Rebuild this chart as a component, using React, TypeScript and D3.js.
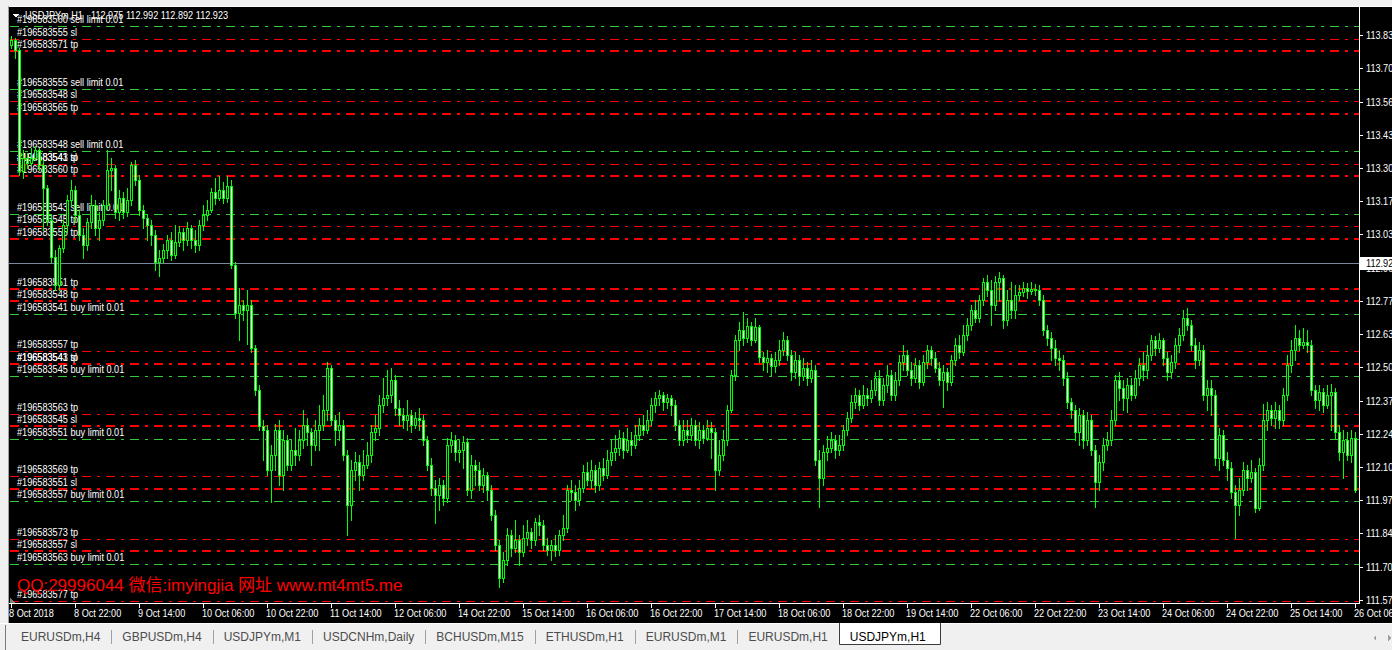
import React from "react";
import * as d3 from "d3";

// ---------- DATA ----------
const symbolTitle = "USDJPYm,H1";
const headerPrices = "112.975 112.992 112.892 112.923";
const bidPrice = 112.923;

const opens = [
  113.794, 113.814, 113.774, 113.290, 113.342, 113.322, 113.342, 113.374, 113.314, 113.222,
  113.094, 112.946, 112.834, 112.982, 113.074, 113.174, 113.214, 113.114, 113.034, 112.994,
  113.086, 113.154, 113.062, 113.094, 113.154, 113.294, 113.302, 113.126, 113.182, 113.126,
  113.174, 113.314, 113.254, 113.134, 113.102, 113.074, 113.034, 112.926, 112.942, 112.974,
  113.014, 112.954, 113.006, 113.046, 113.014, 113.062, 113.014, 112.994, 113.074, 113.114,
  113.134, 113.206, 113.182, 113.214, 113.182, 113.230, 112.914, 112.722, 112.754, 112.734,
  112.754, 112.582, 112.414, 112.270, 112.254, 112.094, 112.154, 112.254, 112.074, 112.214,
  112.114, 112.174, 112.154, 112.214, 112.274, 112.246, 112.194, 112.254, 112.274, 112.334,
  112.502, 112.294, 112.254, 112.274, 112.154, 111.954, 112.094, 112.126, 112.074, 112.114,
  112.154, 112.246, 112.262, 112.354, 112.382, 112.394, 112.454, 112.342, 112.314, 112.294,
  112.314, 112.274, 112.302, 112.294, 112.214, 112.114, 112.022, 111.994, 112.034, 111.982,
  112.194, 112.214, 112.166, 112.174, 112.206, 112.014, 112.114, 112.094, 112.034, 112.074,
  112.014, 111.914, 111.794, 111.662, 111.734, 111.834, 111.782, 111.814, 111.766, 111.822,
  111.846, 111.814, 111.886, 111.874, 111.794, 111.774, 111.794, 111.774, 111.834, 111.862,
  112.014, 112.006, 111.974, 112.022, 112.086, 112.054, 112.094, 112.034, 112.102, 112.074,
  112.134, 112.166, 112.182, 112.222, 112.174, 112.214, 112.194, 112.234, 112.274, 112.254,
  112.294, 112.354, 112.382, 112.394, 112.366, 112.382, 112.354, 112.274, 112.214, 112.254,
  112.234, 112.274, 112.214, 112.254, 112.222, 112.262, 112.246, 112.094, 112.154, 112.214,
  112.334, 112.474, 112.614, 112.654, 112.622, 112.670, 112.614, 112.666, 112.546, 112.526,
  112.542, 112.510, 112.534, 112.574, 112.614, 112.554, 112.486, 112.534, 112.470, 112.502,
  112.462, 112.494, 112.134, 112.062, 112.166, 112.182, 112.214, 112.174, 112.194, 112.254,
  112.302, 112.366, 112.394, 112.354, 112.394, 112.382, 112.414, 112.462, 112.374, 112.434,
  112.474, 112.394, 112.454, 112.526, 112.554, 112.494, 112.462, 112.514, 112.446, 112.526,
  112.574, 112.542, 112.502, 112.454, 112.486, 112.446, 112.534, 112.594, 112.566, 112.634,
  112.674, 112.734, 112.702, 112.774, 112.846, 112.814, 112.754, 112.846, 112.862, 112.694,
  112.774, 112.734, 112.794, 112.806, 112.822, 112.810, 112.818, 112.814, 112.774, 112.654,
  112.622, 112.582, 112.542, 112.534, 112.462, 112.366, 112.334, 112.246, 112.314, 112.214,
  112.294, 112.174, 112.046, 112.126, 112.194, 112.214, 112.294, 112.454, 112.422, 112.382,
  112.434, 112.394, 112.462, 112.514, 112.494, 112.554, 112.614, 112.582, 112.614, 112.542,
  112.486, 112.526, 112.594, 112.634, 112.702, 112.674, 112.594, 112.534, 112.574, 112.394,
  112.422, 112.394, 112.142, 112.234, 112.134, 112.102, 112.006, 111.954, 112.014, 112.094,
  112.062, 112.086, 111.942, 112.114, 112.294, 112.334, 112.302, 112.334, 112.294, 112.394,
  112.514, 112.574, 112.622, 112.594, 112.606, 112.594, 112.414, 112.374, 112.406, 112.354,
  112.394, 112.406, 112.246, 112.166, 112.214, 112.154, 112.222,
];

const highs = [
  113.830, 113.822, 113.782, 113.374, 113.362, 113.382, 113.390, 113.382, 113.334, 113.234,
  113.114, 112.974, 112.994, 113.094, 113.194, 113.254, 113.230, 113.134, 113.062, 113.102,
  113.194, 113.174, 113.126, 113.174, 113.374, 113.342, 113.314, 113.214, 113.206, 113.222,
  113.326, 113.334, 113.274, 113.154, 113.118, 113.094, 113.054, 112.974, 112.998, 113.034,
  113.046, 113.074, 113.070, 113.062, 113.086, 113.074, 113.054, 113.094, 113.154, 113.174,
  113.222, 113.262, 113.270, 113.246, 113.270, 113.254, 112.926, 112.822, 112.774, 112.814,
  112.774, 112.594, 112.434, 112.294, 112.274, 112.194, 112.278, 112.294, 112.254, 112.234,
  112.214, 112.262, 112.254, 112.334, 112.302, 112.262, 112.294, 112.354, 112.394, 112.526,
  112.514, 112.314, 112.326, 112.294, 112.174, 112.134, 112.166, 112.154, 112.174, 112.206,
  112.274, 112.314, 112.394, 112.462, 112.494, 112.502, 112.474, 112.374, 112.342, 112.374,
  112.334, 112.326, 112.342, 112.314, 112.230, 112.142, 112.054, 112.062, 112.054, 112.222,
  112.246, 112.234, 112.214, 112.230, 112.222, 112.154, 112.134, 112.126, 112.102, 112.086,
  112.034, 111.934, 111.814, 111.766, 111.862, 111.854, 111.894, 111.834, 111.874, 111.894,
  111.862, 111.902, 111.914, 111.894, 111.822, 111.814, 111.834, 111.854, 111.914, 112.034,
  112.054, 112.034, 112.054, 112.114, 112.126, 112.134, 112.114, 112.126, 112.142, 112.174,
  112.214, 112.234, 112.254, 112.246, 112.262, 112.246, 112.274, 112.302, 112.314, 112.334,
  112.382, 112.406, 112.414, 112.406, 112.398, 112.394, 112.374, 112.294, 112.294, 112.294,
  112.302, 112.294, 112.286, 112.274, 112.294, 112.286, 112.262, 112.214, 112.254, 112.354,
  112.494, 112.634, 112.686, 112.726, 112.702, 112.686, 112.702, 112.674, 112.566, 112.574,
  112.558, 112.566, 112.614, 112.646, 112.630, 112.574, 112.566, 112.554, 112.542, 112.526,
  112.534, 112.514, 112.174, 112.194, 112.230, 112.246, 112.234, 112.234, 112.274, 112.326,
  112.394, 112.422, 112.414, 112.434, 112.422, 112.454, 112.486, 112.494, 112.462, 112.514,
  112.494, 112.486, 112.554, 112.594, 112.574, 112.526, 112.542, 112.534, 112.554, 112.594,
  112.590, 112.566, 112.526, 112.514, 112.502, 112.554, 112.622, 112.634, 112.674, 112.702,
  112.754, 112.774, 112.794, 112.862, 112.874, 112.854, 112.870, 112.886, 112.874, 112.814,
  112.846, 112.834, 112.834, 112.846, 112.842, 112.846, 112.838, 112.834, 112.794, 112.674,
  112.646, 112.614, 112.574, 112.554, 112.486, 112.382, 112.354, 112.342, 112.334, 112.326,
  112.314, 112.194, 112.154, 112.222, 112.246, 112.334, 112.474, 112.486, 112.454, 112.462,
  112.462, 112.494, 112.542, 112.566, 112.594, 112.634, 112.630, 112.642, 112.622, 112.566,
  112.554, 112.622, 112.662, 112.734, 112.742, 112.694, 112.622, 112.606, 112.594, 112.454,
  112.454, 112.414, 112.262, 112.254, 112.166, 112.126, 112.034, 112.062, 112.126, 112.114,
  112.134, 112.102, 112.142, 112.358, 112.366, 112.354, 112.366, 112.354, 112.422, 112.554,
  112.614, 112.674, 112.654, 112.662, 112.654, 112.614, 112.434, 112.434, 112.422, 112.434,
  112.438, 112.422, 112.274, 112.254, 112.246, 112.254, 112.246,
];

const lows = [
  113.782, 113.742, 113.274, 113.262, 113.302, 113.314, 113.334, 113.294, 113.054, 113.074,
  112.926, 112.814, 112.814, 112.966, 113.046, 113.154, 113.086, 113.014, 112.942, 112.974,
  113.062, 113.034, 113.014, 113.074, 113.134, 113.214, 113.102, 113.094, 113.102, 113.110,
  113.154, 113.234, 113.114, 113.062, 113.014, 112.994, 112.894, 112.870, 112.926, 112.942,
  112.934, 112.942, 112.990, 112.974, 112.994, 112.982, 112.966, 112.974, 113.054, 113.094,
  113.126, 113.158, 113.174, 113.162, 113.166, 112.902, 112.702, 112.614, 112.694, 112.598,
  112.566, 112.394, 112.254, 112.134, 112.074, 111.966, 112.094, 112.034, 112.014, 112.094,
  112.094, 112.114, 112.134, 112.182, 112.194, 112.114, 112.174, 112.174, 112.254, 112.294,
  112.274, 112.194, 112.214, 112.134, 111.834, 111.894, 112.054, 112.014, 112.054, 112.102,
  112.126, 112.214, 112.234, 112.326, 112.354, 112.366, 112.314, 112.274, 112.262, 112.254,
  112.246, 112.262, 112.254, 112.194, 112.094, 111.994, 111.882, 111.934, 111.954, 111.966,
  112.166, 112.134, 112.126, 112.102, 111.994, 111.982, 112.034, 112.014, 112.006, 111.974,
  111.894, 111.774, 111.626, 111.646, 111.714, 111.750, 111.766, 111.714, 111.750, 111.794,
  111.782, 111.794, 111.834, 111.774, 111.754, 111.734, 111.750, 111.754, 111.814, 111.846,
  111.974, 111.934, 111.954, 112.006, 112.034, 112.022, 112.006, 112.014, 112.054, 112.062,
  112.114, 112.134, 112.154, 112.142, 112.166, 112.154, 112.182, 112.214, 112.234, 112.242,
  112.274, 112.326, 112.354, 112.334, 112.342, 112.314, 112.254, 112.194, 112.194, 112.206,
  112.214, 112.194, 112.182, 112.202, 112.214, 112.142, 112.014, 112.074, 112.134, 112.194,
  112.326, 112.454, 112.574, 112.594, 112.606, 112.594, 112.606, 112.526, 112.494, 112.486,
  112.474, 112.486, 112.514, 112.554, 112.534, 112.454, 112.462, 112.434, 112.454, 112.434,
  112.446, 112.114, 111.946, 112.034, 112.134, 112.166, 112.142, 112.154, 112.174, 112.234,
  112.286, 112.342, 112.334, 112.342, 112.354, 112.366, 112.394, 112.354, 112.354, 112.406,
  112.374, 112.374, 112.434, 112.494, 112.474, 112.434, 112.446, 112.422, 112.434, 112.502,
  112.514, 112.486, 112.434, 112.346, 112.414, 112.434, 112.514, 112.542, 112.554, 112.614,
  112.654, 112.686, 112.686, 112.754, 112.790, 112.674, 112.734, 112.774, 112.662, 112.674,
  112.702, 112.702, 112.774, 112.790, 112.782, 112.798, 112.794, 112.754, 112.634, 112.594,
  112.534, 112.514, 112.494, 112.434, 112.342, 112.302, 112.214, 112.194, 112.182, 112.194,
  112.154, 111.946, 112.014, 112.094, 112.174, 112.194, 112.274, 112.374, 112.334, 112.326,
  112.374, 112.382, 112.434, 112.454, 112.462, 112.534, 112.554, 112.566, 112.514, 112.454,
  112.462, 112.502, 112.566, 112.614, 112.654, 112.574, 112.502, 112.514, 112.374, 112.334,
  112.314, 112.114, 112.094, 112.114, 112.054, 111.982, 111.822, 111.914, 111.994, 112.014,
  112.046, 111.926, 111.934, 112.094, 112.254, 112.274, 112.262, 112.262, 112.274, 112.374,
  112.486, 112.534, 112.574, 112.582, 112.566, 112.394, 112.342, 112.334, 112.326, 112.342,
  112.254, 112.222, 112.134, 112.062, 112.134, 112.126, 112.006,
];

const closes = [
  113.814, 113.774, 113.290, 113.342, 113.322, 113.342, 113.374, 113.314, 113.222, 113.094,
  112.946, 112.834, 112.982, 113.074, 113.174, 113.214, 113.114, 113.034, 112.994, 113.086,
  113.154, 113.062, 113.094, 113.154, 113.294, 113.302, 113.126, 113.182, 113.126, 113.174,
  113.314, 113.254, 113.134, 113.102, 113.074, 113.034, 112.926, 112.942, 112.974, 113.014,
  112.954, 113.006, 113.046, 113.014, 113.062, 113.014, 112.994, 113.074, 113.114, 113.134,
  113.206, 113.182, 113.214, 113.182, 113.230, 112.914, 112.722, 112.754, 112.734, 112.754,
  112.582, 112.414, 112.270, 112.254, 112.094, 112.154, 112.254, 112.074, 112.214, 112.114,
  112.174, 112.154, 112.214, 112.274, 112.246, 112.194, 112.254, 112.274, 112.334, 112.502,
  112.294, 112.254, 112.274, 112.154, 111.954, 112.094, 112.126, 112.074, 112.114, 112.154,
  112.246, 112.262, 112.354, 112.382, 112.394, 112.454, 112.342, 112.314, 112.294, 112.314,
  112.274, 112.302, 112.294, 112.214, 112.114, 112.022, 111.994, 112.034, 111.982, 112.194,
  112.214, 112.166, 112.174, 112.206, 112.014, 112.114, 112.094, 112.034, 112.074, 112.014,
  111.914, 111.794, 111.662, 111.734, 111.834, 111.782, 111.814, 111.766, 111.822, 111.846,
  111.814, 111.886, 111.874, 111.794, 111.774, 111.794, 111.774, 111.834, 111.862, 112.014,
  112.006, 111.974, 112.022, 112.086, 112.054, 112.094, 112.034, 112.102, 112.074, 112.134,
  112.166, 112.182, 112.222, 112.174, 112.214, 112.194, 112.234, 112.274, 112.254, 112.294,
  112.354, 112.382, 112.394, 112.366, 112.382, 112.354, 112.274, 112.214, 112.254, 112.234,
  112.274, 112.214, 112.254, 112.222, 112.262, 112.246, 112.094, 112.154, 112.214, 112.334,
  112.474, 112.614, 112.654, 112.622, 112.670, 112.614, 112.666, 112.546, 112.526, 112.542,
  112.510, 112.534, 112.574, 112.614, 112.554, 112.486, 112.534, 112.470, 112.502, 112.462,
  112.494, 112.134, 112.062, 112.166, 112.182, 112.214, 112.174, 112.194, 112.254, 112.302,
  112.366, 112.394, 112.354, 112.394, 112.382, 112.414, 112.462, 112.374, 112.434, 112.474,
  112.394, 112.454, 112.526, 112.554, 112.494, 112.462, 112.514, 112.446, 112.526, 112.574,
  112.542, 112.502, 112.454, 112.486, 112.446, 112.534, 112.594, 112.566, 112.634, 112.674,
  112.734, 112.702, 112.774, 112.846, 112.814, 112.754, 112.846, 112.862, 112.694, 112.774,
  112.734, 112.794, 112.806, 112.822, 112.810, 112.818, 112.814, 112.774, 112.654, 112.622,
  112.582, 112.542, 112.534, 112.462, 112.366, 112.334, 112.246, 112.314, 112.214, 112.294,
  112.174, 112.046, 112.126, 112.194, 112.214, 112.294, 112.454, 112.422, 112.382, 112.434,
  112.394, 112.462, 112.514, 112.494, 112.554, 112.614, 112.582, 112.614, 112.542, 112.486,
  112.526, 112.594, 112.634, 112.702, 112.674, 112.594, 112.534, 112.574, 112.394, 112.422,
  112.394, 112.142, 112.234, 112.134, 112.102, 112.006, 111.954, 112.014, 112.094, 112.062,
  112.086, 111.942, 112.114, 112.294, 112.334, 112.302, 112.334, 112.294, 112.394, 112.514,
  112.574, 112.622, 112.594, 112.606, 112.594, 112.414, 112.374, 112.406, 112.354, 112.394,
  112.406, 112.246, 112.166, 112.214, 112.154, 112.222, 112.014,
];

const orderPrices = [
  113.870, 113.820, 113.770, 113.620, 113.570, 113.520, 113.370, 113.320, 113.320, 113.270,
  113.120, 113.070, 113.020, 112.820, 112.770, 112.720, 112.570, 112.520, 112.520, 112.470,
  112.320, 112.270, 112.220, 112.070, 112.020, 111.970, 111.820, 111.770, 111.720, 111.570,
];
const orderLabels = [
  "#196583560 sell limit 0.01", "#196583555 sl", "#196583571 tp",
  "#196583555 sell limit 0.01", "#196583548 sl", "#196583565 tp",
  "#196583548 sell limit 0.01", "#196583543 sl", "#196583541 tp", "#196583560 tp",
  "#196583543 sell limit 0.01", "#196583545 tp", "#196583555 tp",
  "#196583551 tp", "#196583548 tp", "#196583541 buy limit 0.01",
  "#196583557 tp", "#196583541 sl", "#196583543 tp", "#196583545 buy limit 0.01",
  "#196583563 tp", "#196583545 sl", "#196583551 buy limit 0.01",
  "#196583569 tp", "#196583551 sl", "#196583557 buy limit 0.01",
  "#196583573 tp", "#196583557 sl", "#196583563 buy limit 0.01",
  "#196583577 tp",
];

const priceTicks = [
  113.835, 113.702, 113.568, 113.435, 113.302, 113.170, 113.037, 112.904, 112.771,
  112.638, 112.505, 112.372, 112.240, 112.107, 111.974, 111.841, 111.708, 111.575,
];

const timeLabels = [
  "8 Oct 2018", "8 Oct 22:00", "9 Oct 14:00", "10 Oct 06:00", "10 Oct 22:00", "11 Oct 14:00",
  "12 Oct 06:00", "14 Oct 22:00", "15 Oct 14:00", "16 Oct 06:00", "16 Oct 22:00", "17 Oct 14:00",
  "18 Oct 06:00", "18 Oct 22:00", "19 Oct 14:00", "22 Oct 06:00", "22 Oct 22:00", "23 Oct 14:00",
  "24 Oct 06:00", "24 Oct 22:00", "25 Oct 14:00", "26 Oct 06:00",
];
const barsPerTimeLabel = 16;

const tabNames = [
  "EURUSDm,H4", "GBPUSDm,H4", "USDJPYm,M1", "USDCNHm,Daily", "BCHUSDm,M15",
  "ETHUSDm,H1", "EURUSDm,M1", "EURUSDm,H1", "USDJPYm,H1",
];

const watermark = "QQ:29996044 微信:imyingjia 网址 www.mt4mt5.me";

// ---------- LAYOUT ----------
const W = 1392;
const H = 650;
const FONT = "'Liberation Sans', Arial, sans-serif";
const SX = 0.915;
const LIME = "#00ff00";
const GREEN = "#32cd32";
const RED = "#ff0000";

const chartLeft = 9;
const axisX = 1359;
const chartTop = 7;
const axisY = 603;
const blackBottom = 623;

const x = d3.scaleLinear().domain([0, closes.length - 1]).range([11, 11 + 4 * (closes.length - 1)]);
const y = d3.scaleLinear().domain([111.57, 113.87]).range([601.2, 26]);

const crisp = (v: number) => Math.round(v) + 0.5;

function T({ x: tx, y: ty, children, fill = "#ffffff", size = 10, anchor = "start" }: any) {
  return (
    <text
      transform={`translate(${tx},${ty}) scale(${SX},1)`}
      fill={fill}
      fontSize={size}
      fontFamily={FONT}
      textAnchor={anchor}
    >
      {children}
    </text>
  );
}

function measure(text: string, font: string): number {
  if (typeof document === "undefined") return text.length * 7;
  const c = document.createElement("canvas").getContext("2d");
  if (!c) return text.length * 7;
  c.font = font;
  return c.measureText(text).width;
}

export default function App() {
  // unique order lines
  const uniq: { p: number; green: boolean }[] = [];
  orderPrices.forEach((p, i) => {
    if (!uniq.find((u) => u.p === p)) uniq.push({ p, green: orderLabels[i].includes("limit") });
  });
  uniq.sort((a, b) => b.p - a.p);

  const lines = uniq.map((u, k) => {
    const thick = !u.green && k > 0 && !uniq[k - 1].green;
    const yy = thick ? Math.round(y(u.p)) : crisp(y(u.p));
    return (
      <line
        key={"ol" + k}
        x1={chartLeft + 1}
        x2={axisX}
        y1={yy}
        y2={yy}
        stroke={u.green ? GREEN : RED}
        strokeWidth={thick ? 2 : 1}
        strokeDasharray="9 6 3 6"
      />
    );
  });

  const labels = orderLabels.map((s, i) => (
    <T key={"lb" + i} x={17} y={Math.round(y(orderPrices[i])) - 3}>
      {s}
    </T>
  ));

  const candles = closes.map((c, i) => {
    const o = opens[i];
    const cx = Math.round(x(i));
    const yTop = Math.round(y(Math.max(o, c)));
    const yBot = Math.round(y(Math.min(o, c)));
    const yH = Math.round(y(highs[i]));
    const yL = Math.round(y(lows[i]));
    const bear = c < o;
    return (
      <g key={"c" + i}>
        <line x1={cx + 0.5} x2={cx + 0.5} y1={yH} y2={yL + 1} stroke={LIME} />
        {yBot - yTop < 1 ? (
          <line x1={cx - 1} x2={cx + 2} y1={yTop + 0.5} y2={yTop + 0.5} stroke={LIME} />
        ) : (
          <rect
            x={cx - 0.5}
            y={yTop + 0.5}
            width={2}
            height={yBot - yTop}
            fill={bear ? "#ffffff" : "#000000"}
            stroke={LIME}
          />
        )}
      </g>
    );
  });

  const yTicks = priceTicks.map((p, i) => {
    const yy = Math.round(y(p));
    return (
      <g key={"yt" + i}>
        <line x1={axisX} x2={axisX + 4} y1={yy + 0.5} y2={yy + 0.5} stroke="#ffffff" />
        <T x={1366} y={yy + 4}>
          {p.toFixed(3)}
        </T>
      </g>
    );
  });

  const xTicks = timeLabels.map((s, n) => {
    const xx = Math.round(x(n * barsPerTimeLabel));
    return (
      <g key={"xt" + n}>
        <line x1={xx + 0.5} x2={xx + 0.5} y1={axisY} y2={axisY + 5} stroke="#ffffff" />
        <T x={n === 0 ? xx - 2 : xx - 1} y={617}>
          {s}
        </T>
      </g>
    );
  });

  // tabs
  const tabFont = `12px ${FONT}`;
  let tx = 21;
  const tabEls: any[] = [];
  tabNames.forEach((name, i) => {
    const w = measure(name, tabFont);
    const active = i === tabNames.length - 1;
    if (active) {
      tabEls.push(
        <g key={"tab" + i}>
          <rect x={tx - 11} y={623} width={w + 25} height={22} fill="#ffffff" />
          <path
            d={`M${Math.round(tx - 11) + 0.5},623 V${644.5} H${Math.round(tx + w + 14) + 0.5} V623`}
            fill="none"
            stroke="#3c3c3c"
          />
          <text x={tx} y={641} fontSize={12} fontFamily={FONT} fill="#000000">
            {name}
          </text>
        </g>
      );
    } else {
      tabEls.push(
        <text key={"tab" + i} x={tx} y={641} fontSize={12} fontFamily={FONT} fill="#4d4d4d">
          {name}
        </text>
      );
      const sx = Math.round(tx + w + 11) + 0.5;
      tabEls.push(<line key={"sep" + i} x1={sx} x2={sx} y1={630} y2={644} stroke="#a0a0a0" />);
      tx = tx + w + 22;
    }
  });

  const bidY = Math.round(y(bidPrice));

  return (
    <div style={{ position: "absolute", left: 0, top: 0, width: W, height: H, overflow: "hidden" }}>
      <svg width={W} height={H} style={{ display: "block" }} shapeRendering="crispEdges">
        <rect x={0} y={0} width={W} height={H} fill="#f0f0f0" />
        {/* chart window */}
        <rect x={chartLeft} y={chartTop} width={W - chartLeft} height={blackBottom - chartTop} fill="#000000" />
        <line x1={chartLeft} x2={W} y1={6.5} y2={6.5} stroke="#ffffff" />
        <line x1={chartLeft - 0.5} x2={chartLeft - 0.5} y1={6} y2={blackBottom} stroke="#a0a0a0" />
        <line x1={0} x2={W} y1={blackBottom + 0.5} y2={blackBottom + 0.5} stroke="#ffffff" />
        <line x1={5.5} x2={5.5} y1={625} y2={H} stroke="#7a7a7a" />

        {/* order lines */}
        {lines}
        {/* bid line */}
        <line x1={chartLeft} x2={axisX} y1={bidY + 0.5} y2={bidY + 0.5} stroke="#778899" />

        {/* order labels */}
        <g shapeRendering="auto">{labels}</g>

        {/* candles */}
        {candles}

        {/* header */}
        <polygon points="13,14 19,14 16,18" fill="#ffffff" />
        <g shapeRendering="auto">
          <T x={25} y={19}>
            {symbolTitle}
          </T>
          <T x={91} y={19}>
            {headerPrices}
          </T>
        </g>

        {/* watermark */}
        <text x={17} y={591} fontSize={17} fontFamily={`${FONT}, 'Noto Sans CJK SC'`} fill={RED} shapeRendering="auto">
          {watermark}
        </text>

        {/* small shift marker */}
        <polygon points="10,603 10,597 15,603" fill="#808080" />

        {/* axes */}
        <line x1={axisX + 0.5} x2={axisX + 0.5} y1={chartTop} y2={axisY + 1} stroke="#ffffff" />
        <line x1={chartLeft} x2={axisX + 1} y1={axisY + 0.5} y2={axisY + 0.5} stroke="#ffffff" />
        <g shapeRendering="auto">{yTicks}</g>
        <g shapeRendering="auto">{xTicks}</g>

        {/* bid label */}
        <rect x={1360} y={bidY - 6} width={40} height={13} fill="#ffffff" />
        <g shapeRendering="auto">
          <T x={1366} y={bidY + 4} fill="#000000">
            {bidPrice.toFixed(3)}
          </T>
        </g>

        {/* tabs */}
        <g shapeRendering="auto">{tabEls}</g>
        <polygon points="1376,635 1376,641 1373,638" fill="#a0a0a0" />
        <polygon points="1388,635 1388,641 1391,638" fill="#a0a0a0" />
      </svg>
    </div>
  );
}
